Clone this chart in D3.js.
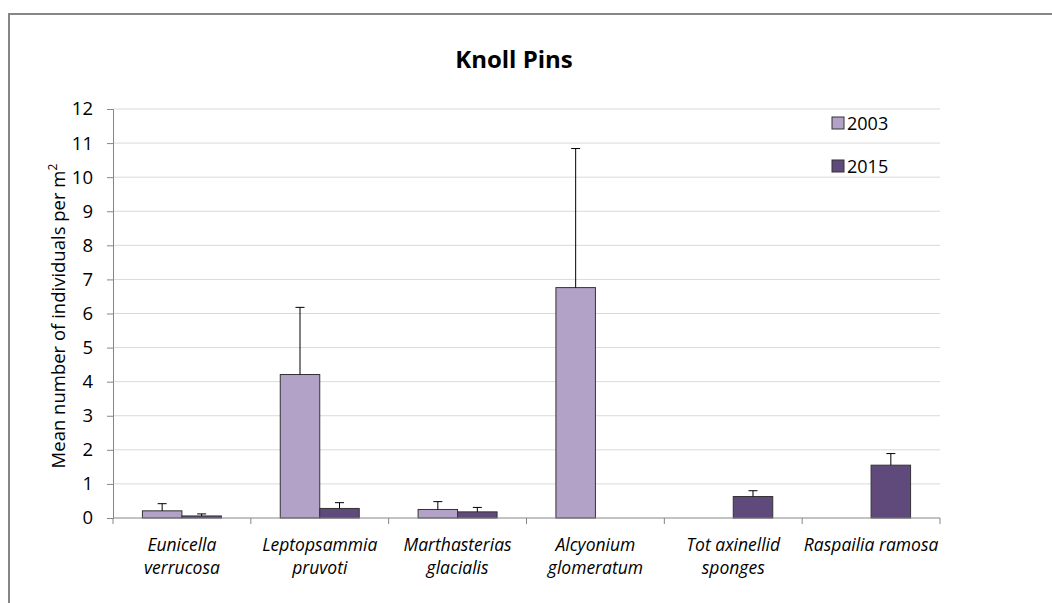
<!DOCTYPE html>
<html>
<head>
<meta charset="utf-8">
<script src="https://cdn.jsdelivr.net/npm/d3@7/dist/d3.min.js"></script>
<style>
  html, body { margin: 0; padding: 0; background: #fff; }
  svg { display: block; font-family: "Open Sans", Lato, sans-serif; }
</style>
</head>
<body>
<svg id="chart" width="1052" height="603"></svg>
<script>
// Species (each entry split into the lines drawn under the axis)
const categories = [
  ["Eunicella", "verrucosa"],
  ["Leptopsammia", "pruvoti"],
  ["Marthasterias", "glacialis"],
  ["Alcyonium", "glomeratum"],
  ["Tot axinellid", "sponges"],
  ["Raspailia ramosa"]
];
const seriesNames = ["2003", "2015"];
const values2003 = [0.21, 4.21, 0.25, 6.76, 0, 0];
const values2015 = [0.06, 0.28, 0.18, 0, 0.63, 1.55];
const errors2003 = [0.21, 1.97, 0.23, 4.08, null, null];
const errors2015 = [0.06, 0.17, 0.13, null, 0.17, 0.34];
const yTicks = [0, 1, 2, 3, 4, 5, 6, 7, 8, 9, 10, 11, 12];
const colors = ["#b3a2c7", "#604a7b"];

const svg = d3.select("#chart");
const W = 1052, H = 603;
const plot = { left: 113, right: 940, top: 109, bottom: 518 };

// outer chart frame (left and top edges fall inside the window)
svg.append("path")
  .attr("d", `M9,${H + 2}V14H${W + 2}`)
  .attr("fill", "none")
  .attr("stroke", "#868686")
  .attr("stroke-width", 2);

// title
svg.append("text")
  .attr("x", 514).attr("y", 68)
  .attr("text-anchor", "middle")
  .attr("font-size", 24).attr("font-weight", "bold")
  .attr("fill", "#000")
  .text("Knoll Pins");

const catKeys = categories.map((d, i) => i);
const x = d3.scaleBand().domain(catKeys).range([plot.left, plot.right]).padding(0);
const xs = d3.scaleBand().domain(seriesNames).range([0, x.bandwidth()])
  .paddingInner(0).paddingOuter(0.745);
const y = d3.scaleLinear().domain([0, 12]).range([plot.bottom, plot.top]);

// horizontal gridlines
svg.append("g").selectAll("line").data(yTicks.filter(t => t > 0)).join("line")
  .attr("x1", plot.left).attr("x2", plot.right)
  .attr("y1", d => y(d)).attr("y2", d => y(d))
  .attr("stroke", "#d9d9d9").attr("stroke-width", 1);

// y axis
const yAxis = svg.append("g")
  .attr("transform", `translate(${plot.left},0)`)
  .call(d3.axisLeft(y).tickValues(yTicks).tickSize(6).tickPadding(14).tickFormat(d3.format("d")));
yAxis.select(".domain").attr("stroke", "#868686");
yAxis.selectAll(".tick line").attr("stroke", "#868686");
yAxis.selectAll(".tick text").attr("font-size", 18.5).attr("fill", "#000")
  .attr("font-family", "'Open Sans', sans-serif");

// y axis title
svg.append("text")
  .attr("transform", `translate(65,316) rotate(-90)`)
  .attr("text-anchor", "middle")
  .attr("font-size", 18.5).attr("fill", "#000")
  .html('Mean number of individuals per m<tspan dy="-8" font-size="12">2</tspan>');

// bars
const data = [];
catKeys.forEach(i => {
  data.push({ cat: i, s: "2003", v: values2003[i], e: errors2003[i], c: colors[0] });
  data.push({ cat: i, s: "2015", v: values2015[i], e: errors2015[i], c: colors[1] });
});
const barData = data.filter(d => d.v > 0);

svg.append("g").selectAll("rect").data(barData).join("rect")
  .attr("x", d => x(d.cat) + xs(d.s))
  .attr("width", xs.bandwidth())
  .attr("y", d => y(d.v))
  .attr("height", d => y(0) - y(d.v))
  .attr("fill", d => d.c)
  .attr("stroke", "#333").attr("stroke-width", 1);

// error bars (positive direction only)
const errG = svg.append("g").selectAll("g").data(barData.filter(d => d.e != null)).join("g")
  .attr("transform", d => `translate(${x(d.cat) + xs(d.s) + xs.bandwidth() / 2},0)`);
errG.append("line")
  .attr("x1", 0).attr("x2", 0)
  .attr("y1", d => y(d.v)).attr("y2", d => y(d.v + d.e))
  .attr("stroke", "#000").attr("stroke-width", 1);
errG.append("line")
  .attr("x1", -4.5).attr("x2", 4.5)
  .attr("y1", d => y(d.v + d.e)).attr("y2", d => y(d.v + d.e))
  .attr("stroke", "#000").attr("stroke-width", 1);

// x axis
const xAxisG = svg.append("g").attr("transform", `translate(0,${plot.bottom})`);
xAxisG.append("line")
  .attr("x1", plot.left).attr("x2", plot.right)
  .attr("stroke", "#868686");
const bounds = catKeys.map(i => x(i)).concat([x(catKeys[catKeys.length - 1]) + x.bandwidth()]);
xAxisG.selectAll("line.tk").data(bounds).join("line").attr("class", "tk")
  .attr("x1", d => d).attr("x2", d => d)
  .attr("y1", 0).attr("y2", 6)
  .attr("stroke", "#868686");

const labels = svg.append("g").selectAll("text").data(catKeys).join("text")
  .attr("x", i => x(i) + x.bandwidth() / 2)
  .attr("y", 551)
  .attr("text-anchor", "middle")
  .attr("font-size", 17.5).attr("font-style", "italic").attr("fill", "#000");
labels.selectAll("tspan").data(i => categories[i].map(t => ({ t, i }))).join("tspan")
  .attr("x", d => x(d.i) + x.bandwidth() / 2)
  .attr("dy", (d, k) => k === 0 ? 0 : 22.5)
  .text(d => d.t);

// legend
const legend = svg.append("g").selectAll("g").data(seriesNames).join("g")
  .attr("transform", (d, i) => `translate(832,${117 + i * 43})`);
legend.append("rect")
  .attr("width", 12).attr("height", 12)
  .attr("fill", (d, i) => colors[i])
  .attr("stroke", "#333").attr("stroke-width", 1);
legend.append("text")
  .attr("x", 15).attr("y", 13)
  .attr("font-size", 18).attr("fill", "#000")
  .text(d => d);
</script>
</body>
</html>
